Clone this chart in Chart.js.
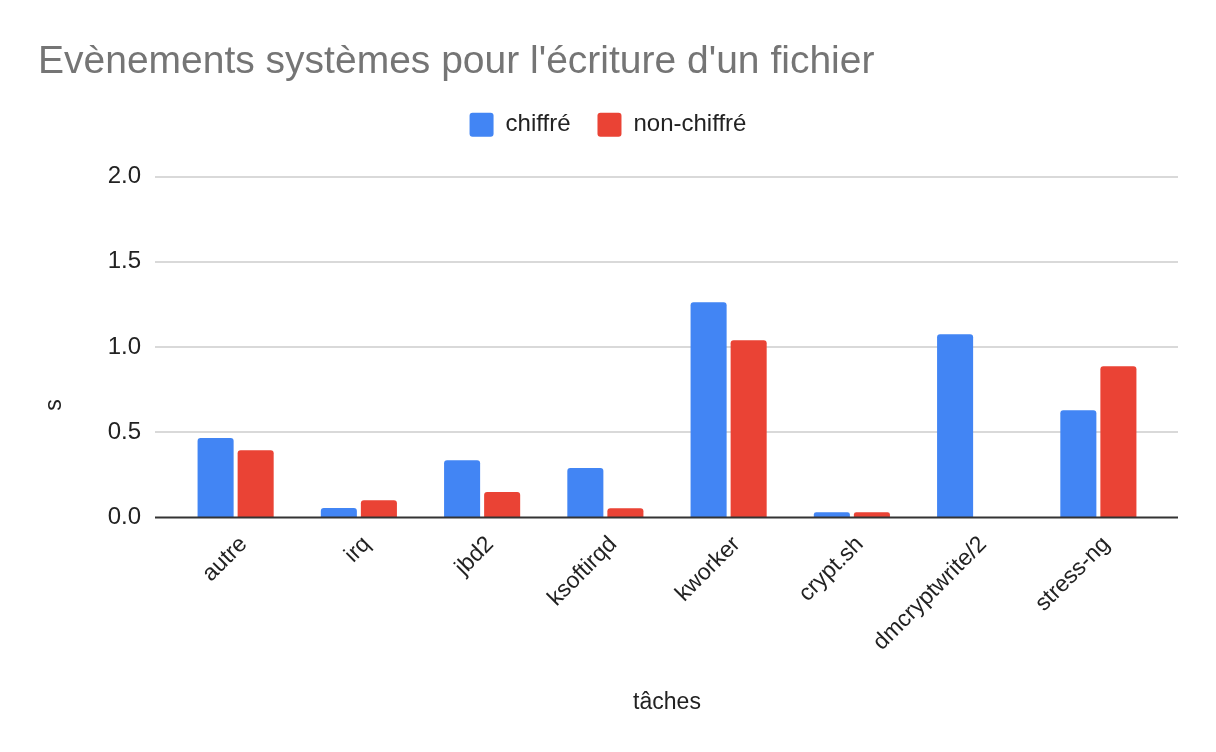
<!DOCTYPE html>
<html>
<head>
<meta charset="utf-8">
<script src="https://cdn.jsdelivr.net/npm/chart.js@4.4.1/dist/chart.umd.min.js"></script>
<style>
  html, body { margin: 0; padding: 0; background: #ffffff; }
  #wrap { width: 1216px; height: 752px; }
</style>
</head>
<body>
<div id="wrap"><canvas id="c" width="1216" height="752"></canvas></div>
<script>
const categories = ["autre", "irq", "jbd2", "ksoftirqd", "kworker", "crypt.sh", "dmcryptwrite/2", "stress-ng"];
const chiffre = [0.465, 0.053, 0.334, 0.288, 1.263, 0.028, 1.075, 0.627];
const nonChiffre = [0.392, 0.098, 0.147, 0.051, 1.039, 0.028, 0, 0.886];
const seriesNames = ["chiffré", "non-chiffré"];
const titleText = "Evènements systèmes pour l'écriture d'un fichier";
const xTitle = "tâches";
const yTitle = "s";

const FONT = "'Liberation Sans', Arial, sans-serif";

const legendGap = {
  id: 'legendGap',
  beforeLayout(chart) {
    const lg = chart.legend;
    if (lg && !lg._gapPatched) {
      const fit = lg.fit;
      lg.fit = function () { fit.call(this); this.height += 30; };
      lg._gapPatched = true;
    }
  }
};

const gridPlugin = {
  id: 'extGrid',
  beforeDatasetsDraw(chart) {
    const y = chart.scales.y;
    const { left, right } = chart.chartArea;
    const ctx = chart.ctx;
    ctx.save();
    ctx.strokeStyle = '#cccccc';
    ctx.lineWidth = 1.5;
    y.ticks.forEach(t => {
      if (t.value === 0) return;
      const py = Math.round(y.getPixelForValue(t.value));
      ctx.beginPath();
      ctx.moveTo(left - 19, py);
      ctx.lineTo(right + 18, py);
      ctx.stroke();
    });
    ctx.restore();
  },
  afterDatasetsDraw(chart) {
    const y = chart.scales.y;
    const { left, right } = chart.chartArea;
    const ctx = chart.ctx;
    const py = y.getPixelForValue(0);
    ctx.save();
    ctx.strokeStyle = '#333333';
    ctx.lineWidth = 2;
    ctx.beginPath();
    ctx.moveTo(left - 19, py + 0.5);
    ctx.lineTo(right + 18, py + 0.5);
    ctx.stroke();
    ctx.restore();
  },
  afterDraw(chart) {
    const ctx = chart.ctx;
    const y = chart.scales.y;
    const cy = (chart.chartArea.top + chart.chartArea.bottom) / 2 + 58;
    ctx.save();
    ctx.translate(y.left + 17, cy);
    ctx.rotate(-Math.PI / 2);
    ctx.fillStyle = '#222222';
    ctx.font = "23px " + FONT;
    ctx.textAlign = 'center';
    ctx.textBaseline = 'middle';
    ctx.fillText(yTitle, 0, 0);
    ctx.restore();
  }
};

new Chart(document.getElementById('c'), {
  type: 'bar',
  data: {
    labels: categories,
    datasets: [
      { label: seriesNames[0], data: chiffre, backgroundColor: '#4285F4', borderRadius: 3, borderSkipped: 'start' },
      { label: seriesNames[1], data: nonChiffre, backgroundColor: '#EA4335', borderRadius: 3, borderSkipped: 'start' }
    ]
  },
  plugins: [legendGap, gridPlugin],
  options: {
    responsive: false,
    animation: false,
    devicePixelRatio: 1,
    layout: { padding: { left: 38, right: 38, top: 0, bottom: 0 } },
    datasets: { bar: { categoryPercentage: 0.65, barPercentage: 0.9 } },
    plugins: {
      title: {
        display: true,
        text: titleText,
        align: 'start',
        color: '#757575',
        font: { family: FONT, size: 39, weight: 'normal', lineHeight: 1.2 },
        padding: { top: 39, bottom: 0 }
      },
      legend: {
        display: true,
        position: 'top',
        labels: {
          color: '#222222',
          font: { family: FONT, size: 24 },
          boxWidth: 24,
          boxHeight: 24,
          useBorderRadius: true,
          borderRadius: 3,
          padding: 27
        }
      },
      tooltip: { enabled: false }
    },
    scales: {
      x: {
        grid: { display: false },
        border: { display: false },
        ticks: {
          color: '#222222',
          font: { family: FONT, size: 23 },
          maxRotation: 45,
          minRotation: 45,
          padding: 6,
          labelOffset: 8
        },
        title: {
          display: true,
          text: xTitle,
          color: '#222222',
          font: { family: FONT, size: 23 },
          padding: { top: 0, bottom: 36 }
        },
        afterFit(s) { s.height = 235; }
      },
      y: {
        min: 0,
        max: 2,
        grid: { display: false },
        border: { display: false },
        ticks: {
          stepSize: 0.5,
          color: '#222222',
          font: { family: FONT, size: 24 },
          padding: 25,
          callback: v => Number(v).toFixed(1)
        },
        afterFit(s) { s.width = 136; }
      },
      y2: {
        position: 'right',
        display: true,
        grid: { display: false },
        border: { display: false },
        ticks: { display: false },
        afterFit(s) { s.width = 18; }
      }
    }
  }
});
</script>
</body>
</html>
